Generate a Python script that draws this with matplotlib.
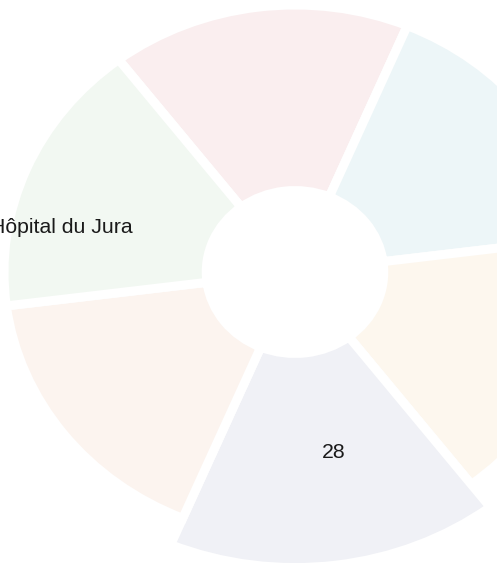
import matplotlib
matplotlib.use("Agg")
import matplotlib.pyplot as plt

# slices, clockwise from the top-left boundary
values = [28, 28, 28, 28, 28, 28]
colors = ["#FAEEEF", "#EDF6F8", "#FDF7EE", "#F0F1F6", "#FCF4EF", "#F2F8F2"]
highlight = 3          # hovered slice (value label shown)
name_label = "Hôpital du Jura"

plt.rcParams["font.family"] = ["Liberation Sans", "DejaVu Sans"]

fig = plt.figure(figsize=(4.97, 5.68), dpi=100)
ax = fig.add_axes([0, 0, 1, 1])

inner = 0.305
wedges, _ = ax.pie(values, colors=colors, startangle=127.3, counterclock=False,
                   radius=1.0,
                   wedgeprops={"width": 1.0 - inner, "edgecolor": "white",
                               "linewidth": 6.5})
# hovered slice pops out
w = wedges[highlight]
w.set_radius(1.107)
w.set_width(1.107 - inner)

# the chart is cropped and slightly squashed vertically
ax.set_aspect("auto")
ax.set_xlim(-295 / 291, (497 - 295) / 291)
ax.set_ylim(-(568 - 272) / 267, 272 / 267)
ax.axis("off")

fig.text(133 / 497, 1 - 233 / 568, name_label, ha="right", va="baseline",
         fontsize=15.3, color="#1a1a1a")
fig.text(333.5 / 497, 1 - 458 / 568, str(values[highlight]), ha="center",
         va="baseline", fontsize=15.3, color="#1a1a1a")

plt.savefig("out.png", dpi=100)
